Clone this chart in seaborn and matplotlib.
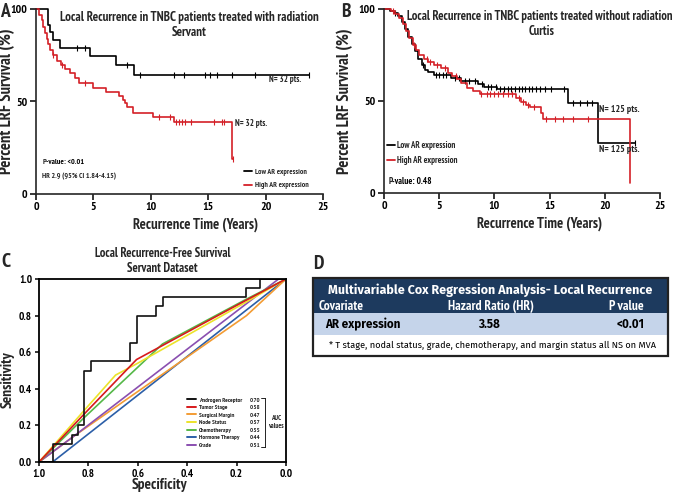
import numpy as np
import pandas as pd
import matplotlib
matplotlib.use("Agg")
import matplotlib.pyplot as plt
import seaborn as sns
from matplotlib.lines import Line2D
from matplotlib.patches import Rectangle

# ---------------- Panel A : Servant (treated with radiation) ----------------
a_low_time = [0, 1.08, 1.2, 1.45, 2.05, 4.7, 7.0, 8.55, 23.8]
a_low_surv = [100, 91.5, 87.5, 83.5, 79.0, 74.4, 69.5, 64.5, 64.5]
a_low_cens = [3.55, 4.27, 7.9, 9.05, 12.0, 12.9, 14.7, 15.2, 15.8, 17.1, 19.1, 23.8]
a_high_time = [0, 0.3, 0.5, 0.65, 0.8, 0.93, 1.08, 1.2, 1.45, 1.8, 2.15, 2.5, 2.96,
               3.4, 3.78, 5.0, 6.1, 7.27, 7.56, 7.76, 7.9, 8.43, 10.2, 12.0, 17.06, 17.2]
a_high_surv = [100, 97, 94, 90.5, 87, 84, 81, 78, 75, 72, 69.5, 67.5, 65.5,
               62.5, 60, 57.5, 55, 53, 51, 49, 47, 44, 41.5, 38.7, 19, 19]
a_high_cens = [1.5, 2.3, 4.3, 10.7, 11.7, 12.2, 12.45, 12.7, 13.0, 13.5, 15.5, 16.2, 16.4, 17.2]

# ---------------- Panel B : Curtis (treated without radiation) ----------------
b_low_time = [0, 0.5, 0.9, 1.3, 1.6, 1.9, 2.2, 2.5, 2.8, 3.1, 3.4, 3.7, 4.0, 4.5,
              6.1, 7.0, 8.5, 9.1, 10.2, 16.7, 19.4, 22.7]
b_low_surv = [100, 99, 98, 96, 93, 89, 85, 81, 77, 73, 69.5, 67, 65.5, 64,
              62.5, 61, 59, 57.5, 56.4, 48.8, 27.1, 27.1]
b_low_cens = [1.0, 3.5, 4.7, 5.0, 5.3, 5.6, 6.4, 6.8, 7.3, 7.7, 8.2, 8.9, 9.4, 9.7,
              10.1, 10.5, 10.9, 11.2, 11.5, 11.9, 12.2, 12.5, 12.8, 13.1, 13.4, 13.8,
              14.1, 14.6, 15.1, 16.3, 17.1, 17.75, 18.4, 18.8, 22.7]
b_high_time = [0, 0.6, 1.0, 1.4, 1.7, 2.0, 2.3, 2.6, 2.9, 3.2, 3.6, 4.0, 4.5, 5.2,
               5.8, 6.2, 6.6, 7.0, 7.5, 8.1, 8.7, 12.0, 12.4, 12.9, 13.2, 14.2, 14.4, 22.3]
b_high_surv = [100, 99, 97.5, 95, 92, 88, 84, 80.5, 77.5, 75, 73, 71, 69.5, 68,
               65, 63.5, 62, 60, 57, 55.5, 53.7, 51.5, 49.5, 48, 46.5, 43.5, 40.2, 5.6]
b_high_cens = [0.8, 2.7, 3.9, 4.2, 4.8, 5.5, 6.5, 8.8, 9.3, 9.6, 10.0, 10.3, 10.8,
               11.2, 11.6, 12.2, 12.6, 13.0, 13.6, 14.7, 15.5, 16.2, 17.1, 18.5]

# ---------------- Panel C : ROC curves ----------------
roc_labels = ["Androgen Receptor", "Tumor Stage", "Surgical Margin", "Node Status",
              "Chemotherapy", "Hormone Therapy", "Grade"]
roc_auc = ["0.70", "0.58", "0.47", "0.57", "0.55", "0.44", "0.51"]
roc_colors = ["#111111", "#d7191c", "#f39c34", "#ece32a", "#55b848", "#2c5fa8", "#8a4fb0"]
roc_spec = {
    "Androgen Receptor": [1.0, 0.945, 0.945, 0.868, 0.868, 0.841, 0.841, 0.816, 0.816, 0.79, 0.79,
                          0.63, 0.63, 0.605, 0.605, 0.525, 0.525, 0.5, 0.5, 0.16, 0.16, 0.105, 0.105, 0.0],
    "Tumor Stage": [1.0, 0.815, 0.605, 0.16, 0.0],
    "Surgical Margin": [1.0, 0.86, 0.16, 0.0],
    "Node Status": [1.0, 0.815, 0.69, 0.6, 0.16, 0.0],
    "Chemotherapy": [1.0, 0.815, 0.5, 0.16, 0.0],
    "Hormone Therapy": [1.0, 0.945, 0.0],
    "Grade": [1.0, 0.86, 0.03, 0.0],
}
roc_sens = {
    "Androgen Receptor": [0, 0, 0.1, 0.1, 0.15, 0.15, 0.2, 0.2, 0.5, 0.5, 0.55,
                          0.55, 0.65, 0.65, 0.8, 0.8, 0.85, 0.85, 0.9, 0.9, 0.95, 0.95, 1.0, 1.0],
    "Tumor Stage": [0, 0.265, 0.56, 0.885, 1.0],
    "Surgical Margin": [0, 0.14, 0.8, 1.0],
    "Node Status": [0, 0.285, 0.475, 0.54, 0.875, 1.0],
    "Chemotherapy": [0, 0.245, 0.645, 0.89, 1.0],
    "Hormone Therapy": [0, 0, 1.0],
    "Grade": [0, 0.14, 1.0, 1.0],
}
roc_draw_order = ["Hormone Therapy", "Surgical Margin", "Grade", "Chemotherapy",
                  "Node Status", "Tumor Stage", "Androgen Receptor"]

# ---------------- Panel D : table ----------------
table_title = "Multivariable Cox Regression Analysis- Local Recurrence"
table_columns = ["Covariate", "Hazard Ratio (HR)", "value"]
table_row = ["AR expression", "3.58", "<0.01"]
table_note = "* T stage, nodal status, grade, chemotherapy, and margin status all NS on MVA"

# ---------------------------------------------------------------------------
sns.set_theme(style="ticks")
NARROW = ["PT Sans Narrow", "Fira Sans Condensed", "Roboto Condensed", "Archivo Narrow",
          "Liberation Sans", "DejaVu Sans"]
WIDE = ["Fira Sans", "PT Sans", "Open Sans", "Liberation Sans", "DejaVu Sans"]
plt.rcParams["font.family"] = NARROW
plt.rcParams["font.weight"] = "bold"
plt.rcParams["axes.linewidth"] = 1.2

W, H = 675, 494
fig = plt.figure(figsize=(W / 100, H / 100), dpi=100)


def ax_px(x0, y0, x1, y1):
    return fig.add_axes([x0 / W, 1 - y1 / H, (x1 - x0) / W, (y1 - y0) / H])


def surv_at(times, survs, pts):
    times = np.asarray(times)
    survs = np.asarray(survs)
    idx = np.searchsorted(times, pts, side="right") - 1
    idx = np.clip(idx, 0, len(survs) - 1)
    return survs[idx]


def km_panel(ax, curves, xlab_xy, ylab_xy):
    for t, s, c, col in curves:
        sns.lineplot(x=t, y=s, drawstyle="steps-post", color=col, lw=1.2,
                     estimator=None, sort=False, ax=ax, legend=False)
        ax.lines[-1].set_clip_on(False)
        cy = surv_at(t, s, c)
        ax.plot(c, cy, ls="none", marker="|", ms=4, mew=0.8, color=col, clip_on=False)
    ax.set_xlim(0, 25)
    ax.set_ylim(0, 100)
    ax.set_xticks([0, 5, 10, 15, 20, 25])
    ax.set_yticks([0, 50, 100])
    sns.despine(ax=ax)
    ax.tick_params(labelsize=8.5, width=1.1, length=4, pad=2, colors="black")
    for lab in ax.get_xticklabels() + ax.get_yticklabels():
        lab.set_fontweight("bold")
    ax.set_xlabel("Recurrence Time (Years)", fontsize=10.5, fontweight="bold")
    ax.set_ylabel("Percent LRF Survival (%)", fontsize=12, fontweight="bold")
    ax.xaxis.set_label_coords(*xlab_xy)
    ax.yaxis.set_label_coords(*ylab_xy)
    ax.set_facecolor("none")


def pval(ax, x, y, rest, size, **kw):
    t1 = ax.text(x, y, "P", fontsize=size, style="italic", va="center", **kw)
    ax.annotate(rest, xycoords=t1, xy=(1, 0.5), va="center", fontsize=size,
                color=kw.get("color", "black"))


# ---------------- Panel A ----------------
axA = ax_px(36, 9, 323, 194)
km_panel(axA, [(a_low_time, a_low_surv, a_low_cens, "black"),
               (a_high_time, a_high_surv, a_high_cens, "#d42027")],
         (0.557, -0.125), (-0.073, 0.5))
axA.text(0.533, 0.955, "Local Recurrence in TNBC patients treated with radiation",
         transform=axA.transAxes, ha="center", va="center", fontsize=9.3)
axA.text(0.533, 0.875, "Servant", transform=axA.transAxes, ha="center", va="center", fontsize=9.3)
axA.text(20.3, 60.5, "N= 32 pts.", fontsize=6.3, fontweight="bold")
axA.text(17.3, 37.0, "N= 32 pts.", fontsize=6.3, fontweight="bold")
pval(axA, 0.022, 0.17, "-value: <0.01", 5.8, transform=axA.transAxes)
axA.text(0.022, 0.095, "HR 2.9 (95% CI 1.84-4.15)", transform=axA.transAxes, fontsize=5.6, va="center")
axA.legend(handles=[Line2D([], [], color="black", lw=1.3), Line2D([], [], color="#d42027", lw=1.3)],
           labels=["Low AR expression", "High AR expression"], loc="lower left",
           bbox_to_anchor=(0.725, 0.025), frameon=False, fontsize=5.5, handlelength=1.1,
           handletextpad=0.35, labelspacing=0.8, borderpad=0, borderaxespad=0)
fig.text(0 / W, 1 - 12 / H, "A", fontsize=14, fontweight="bold", va="center", ha="left")

# ---------------- Panel B ----------------
axB = ax_px(384, 9, 660, 193)
km_panel(axB, [(b_low_time, b_low_surv, b_low_cens, "black"),
               (b_high_time, b_high_surv, b_high_cens, "#d42027")],
         (0.565, -0.125), (-0.112, 0.5))
axB.text(0.565, 0.96, "Local Recurrence in TNBC patients treated without radiation",
         transform=axB.transAxes, ha="center", va="center", fontsize=9)
axB.text(0.57, 0.88, "Curtis", transform=axB.transAxes, ha="center", va="center", fontsize=9)
axB.text(19.5, 44.0, "N= 125 pts.", fontsize=7.0, fontweight="bold")
axB.text(19.5, 22.5, "N= 125 pts.", fontsize=7.0, fontweight="bold")
pval(axB, 0.015, 0.065, "-value: 0.48", 6.6, transform=axB.transAxes)
axB.legend(handles=[Line2D([], [], color="black", lw=1.3), Line2D([], [], color="#d42027", lw=1.3)],
           labels=["Low AR expression", "High AR expression"], loc="lower left",
           bbox_to_anchor=(0.012, 0.15), frameon=False, fontsize=6.3, handlelength=0.9,
           handletextpad=0.2, labelspacing=0.7, borderpad=0, borderaxespad=0)
fig.text(341 / W, 1 - 12 / H, "B", fontsize=14, fontweight="bold", va="center", ha="left")

# ---------------- Panel C ----------------
axC = ax_px(39, 279, 286, 462)
color_of = dict(zip(roc_labels, roc_colors))
for name in roc_draw_order:
    df = pd.DataFrame({"spec": roc_spec[name], "sens": roc_sens[name]})
    sns.lineplot(data=df, x="spec", y="sens", color=color_of[name], lw=1.2,
                 sort=False, estimator=None, ax=axC, legend=False)
axC.set_xlim(1.0, 0.0)
axC.set_ylim(0.0, 1.0)
axC.set_xticks([1.0, 0.8, 0.6, 0.4, 0.2, 0.0])
axC.set_yticks([0.0, 0.2, 0.4, 0.6, 0.8, 1.0])
axC.xaxis.set_major_formatter(matplotlib.ticker.FormatStrFormatter("%.1f"))
axC.yaxis.set_major_formatter(matplotlib.ticker.FormatStrFormatter("%.1f"))
axC.tick_params(labelsize=8, width=1.1, length=3, pad=2, colors="black")
for lab in axC.get_xticklabels() + axC.get_yticklabels():
    lab.set_fontweight("bold")
for sp in axC.spines.values():
    sp.set_linewidth(1.3)
    sp.set_color("black")
axC.set_xlabel("Specificity", fontsize=11, fontweight="bold")
axC.set_ylabel("Sensitivity", fontsize=11, fontweight="bold")
axC.xaxis.set_label_coords(0.49, -0.09)
axC.yaxis.set_label_coords(-0.10, 0.45)
axC.set_title("Local Recurrence-Free Survival\nServant Dataset", fontsize=9,
              fontweight="bold", pad=5, linespacing=1.25)
legC = axC.legend(handles=[Line2D([], [], color=c, lw=1.4) for c in roc_colors],
                  labels=roc_labels, loc="upper left", bbox_to_anchor=(0.6, 0.355),
                  frameon=False, fontsize=4.6, handlelength=1.4, handletextpad=0.4,
                  labelspacing=0.33, borderpad=0, borderaxespad=0)
fig.canvas.draw()
inv = axC.transAxes.inverted()
ys = []
for t in legC.get_texts():
    bb = t.get_window_extent()
    ys.append(inv.transform((0, (bb.y0 + bb.y1) / 2))[1])
for ay, v in zip(ys, roc_auc):
    axC.text(0.853, ay, v, transform=axC.transAxes, fontsize=4.6, va="center", ha="left")
bx = 0.913
axC.add_line(Line2D([bx, bx], [ys[-1] - 0.01, ys[0] + 0.01], transform=axC.transAxes,
                    color="black", lw=0.6))
for yy in (ys[-1] - 0.01, ys[0] + 0.01):
    axC.add_line(Line2D([bx - 0.015, bx], [yy, yy], transform=axC.transAxes, color="black", lw=0.6))
axC.text(0.958, (ys[0] + ys[-1]) / 2, "AUC\nvalues", transform=axC.transAxes, fontsize=5.0,
         ha="center", va="center", linespacing=1.1)
fig.text(1 / W, 1 - 262 / H, "C", fontsize=14, fontweight="bold", va="center", ha="left")

# ---------------- Panel D (table) ----------------
axD = ax_px(313, 278, 668, 356)
axD.set_xlim(0, 1)
axD.set_ylim(0, 1)
axD.axis("off")
axD.add_patch(Rectangle((0, 0.551), 1, 0.449, facecolor="#1d3a5e", edgecolor="none"))
axD.add_patch(Rectangle((0, 0.269), 1, 0.282, facecolor="#c5d4ea", edgecolor="none"))
axD.add_patch(Rectangle((0, 0.0), 1, 0.269, facecolor="white", edgecolor="none"))
axD.add_patch(Rectangle((0, 0), 1, 1, facecolor="none", edgecolor="#222222", lw=1.6, clip_on=False))
axD.text(0.5, 0.84, table_title, color="white", fontsize=9.0, fontweight="bold",
         ha="center", va="center", family=WIDE)
axD.text(0.015, 0.635, table_columns[0], color="white", fontsize=9.6, ha="left", va="center")
axD.text(0.5, 0.635, table_columns[1], color="white", fontsize=9.6, ha="center", va="center")
pv = axD.text(0.832, 0.635, "P", color="white", fontsize=9.6, ha="left", va="center", style="italic")
axD.annotate(" " + table_columns[2], xycoords=pv, xy=(1, 0.5), va="center", color="white",
             fontsize=9.6)
axD.text(0.034, 0.405, table_row[0], color="black", fontsize=8.4, ha="left", va="center", family=WIDE)
axD.text(0.496, 0.405, table_row[1], color="black", fontsize=8.4, ha="center", va="center", family=WIDE)
axD.text(0.895, 0.405, table_row[2], color="black", fontsize=8.4, ha="center", va="center", family=WIDE)
axD.text(0.507, 0.135, table_note, color="black", fontsize=6.6, fontweight="normal",
         ha="center", va="center", family=WIDE)
fig.text(313 / W, 1 - 264 / H, "D", fontsize=14, fontweight="bold", va="center", ha="left")

fig.savefig("out.png", dpi=100)
